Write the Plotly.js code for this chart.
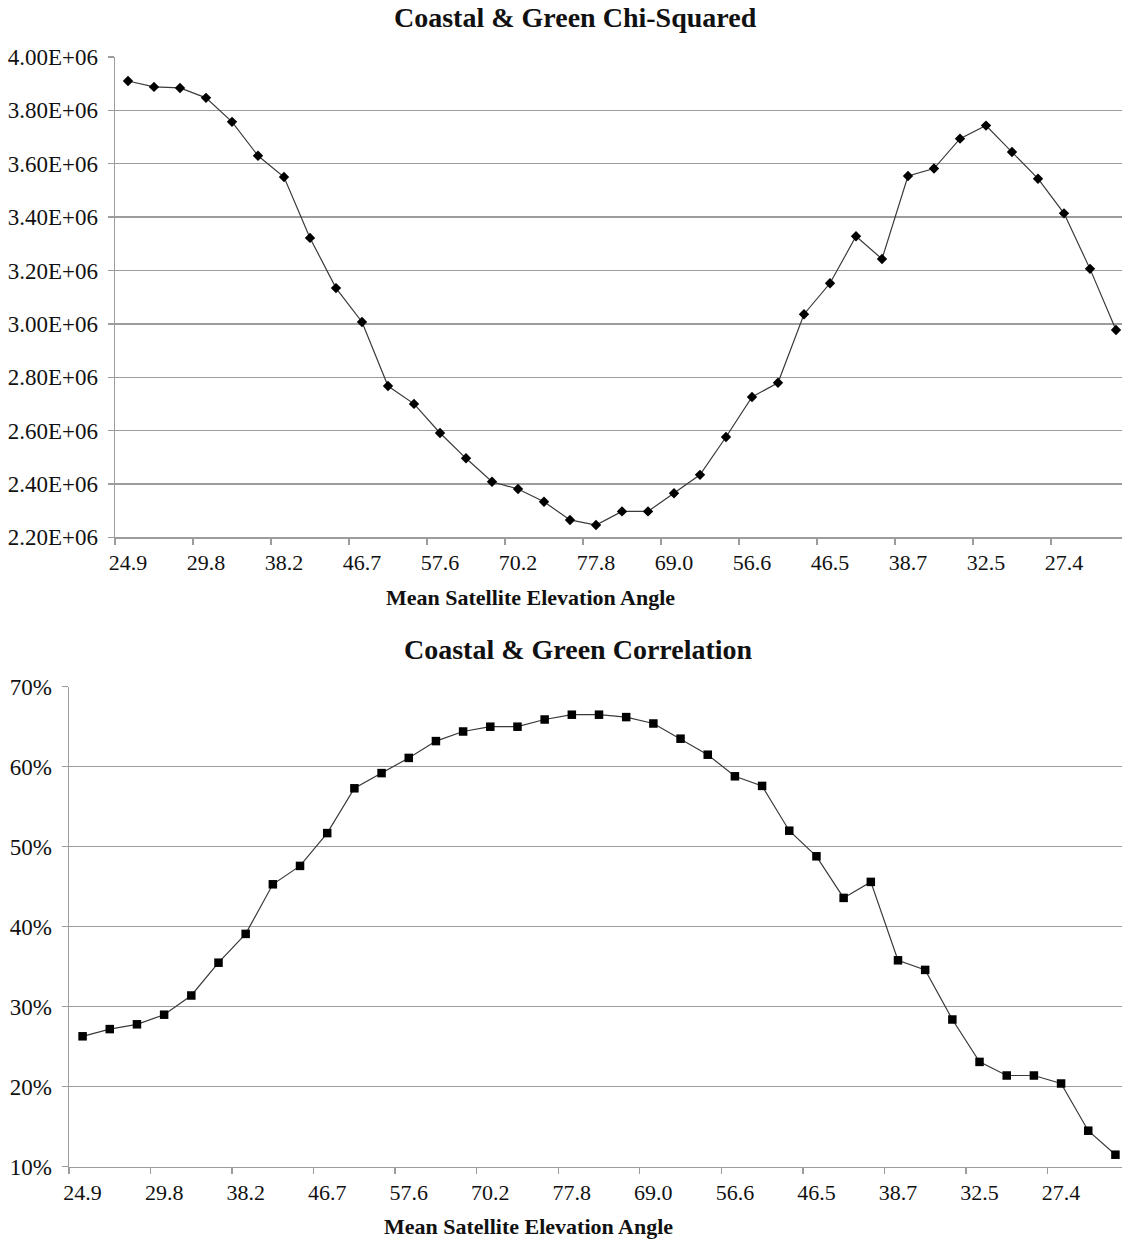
<!DOCTYPE html>
<html>
<head>
<meta charset="utf-8">
<script src="https://cdn.plot.ly/plotly-3.0.1.min.js"></script>
<style>html,body{margin:0;padding:0;background:#fff;overflow:hidden;}</style>
</head>
<body>
<div id="chart" style="width:1122px;height:1241px;"></div>
<script>
// ---- data ----
const angleTickLabels = ["24.9","29.8","38.2","46.7","57.6","70.2","77.8","69.0","56.6","46.5","38.7","32.5","27.4"];
const chiSquared = [3.910e6,3.888e6,3.884e6,3.847e6,3.757e6,3.630e6,3.550e6,3.322e6,3.134e6,3.007e6,
  2.767e6,2.700e6,2.591e6,2.496e6,2.408e6,2.381e6,2.333e6,2.265e6,2.246e6,2.297e6,
  2.297e6,2.365e6,2.434e6,2.576e6,2.726e6,2.779e6,3.036e6,3.152e6,3.328e6,3.243e6,
  3.554e6,3.582e6,3.694e6,3.743e6,3.644e6,3.544e6,3.414e6,3.206e6,2.977e6];
const correlation = [0.263,0.272,0.278,0.290,0.314,0.355,0.391,0.453,0.476,0.517,
  0.573,0.592,0.611,0.632,0.644,0.650,0.650,0.659,0.665,0.665,
  0.662,0.654,0.635,0.615,0.588,0.576,0.520,0.488,0.436,0.456,
  0.358,0.346,0.284,0.231,0.214,0.214,0.204,0.145,0.115];
const chiTicks = [2.2e6,2.4e6,2.6e6,2.8e6,3.0e6,3.2e6,3.4e6,3.6e6,3.8e6,4.0e6];
const corrTicks = [0.1,0.2,0.3,0.4,0.5,0.6,0.7];

// ---- layout helpers ----
const W = 1122, H = 1241;
const px = x => x / W;
const py = y => 1 - y / H;
const idx1 = chiSquared.map((_, i) => i);
const idx2 = correlation.map((_, i) => i);
const labelPos = angleTickLabels.map((_, i) => i * 3);
const fmtE = v => v.toExponential(2).toUpperCase().replace(/E\+(\d)$/, 'E+0$1');

const FAMILY = 'Liberation Serif';
const mkFont = size => ({family: FAMILY, size: size, color: '#111'});
const gray = '#9c9c9c';

const traces = [
  {x: idx1, y: chiSquared, xaxis: 'x', yaxis: 'y', type: 'scatter', mode: 'lines+markers',
   line: {color: '#3a3a3a', width: 1.2}, marker: {symbol: 'diamond', size: 8, color: '#000'},
   cliponaxis: false, hoverinfo: 'skip'},
  {x: idx2, y: correlation, xaxis: 'x2', yaxis: 'y2', type: 'scatter', mode: 'lines+markers',
   line: {color: '#3a3a3a', width: 1.2}, marker: {symbol: 'square', size: 8.5, color: '#000'},
   cliponaxis: false, hoverinfo: 'skip'}
];

function xAxis(left, w, anchor) {
  return {
    domain: [px(left), 1], anchor: anchor,
    range: [-0.5, -0.5 + (W - left) / w],
    tickmode: 'array', tickvals: labelPos, ticktext: angleTickLabels,
    ticks: '', showgrid: false, zeroline: false,
    showline: true, linecolor: gray, linewidth: 1.4,
    tickfont: mkFont(22),
    ticklabelstandoff: 5,
    minor: {tickmode: 'linear', tick0: -0.5, dtick: 3, ticks: 'outside', ticklen: 6,
            tickcolor: gray, tickwidth: 1.4, showgrid: false},
    fixedrange: true, automargin: false
  };
}
function yAxis(top, bottom, anchor, range, tickvals, ticktext) {
  return {
    domain: [py(bottom), py(top)], anchor: anchor, range: range,
    tickmode: 'array', tickvals: tickvals, ticktext: ticktext,
    ticks: 'outside', ticklen: 6, tickcolor: gray, tickwidth: 1.4,
    showgrid: true, gridcolor: gray, gridwidth: 1.4, zeroline: false,
    showline: true, linecolor: gray, linewidth: 1.4,
    tickfont: mkFont(23),
    ticklabelstandoff: 5,
    fixedrange: true, automargin: false
  };
}

const layout = {
  width: W, height: H,
  margin: {l: 0, r: 0, t: 0, b: 0},
  font: mkFont(22),
  paper_bgcolor: '#fff', plot_bgcolor: '#fff',
  showlegend: false,
  xaxis: xAxis(115, 26, 'y'),
  yaxis: yAxis(57, 537.3, 'x', [2.2e6, 4.0e6], chiTicks, chiTicks.map(fmtE)),
  xaxis2: xAxis(69, 27.18, 'y2'),
  yaxis2: yAxis(686.7, 1166.7, 'x2', [0.1, 0.7], corrTicks, corrTicks.map(v => Math.round(v * 100) + '%')),
  annotations: [
    {text: '<b>Coastal &amp; Green Chi-Squared</b>', x: px(575.5), y: py(18), xref: 'paper', yref: 'paper',
     xanchor: 'center', yanchor: 'middle', showarrow: false, font: mkFont(28)},
    {text: '<b>Mean Satellite Elevation Angle</b>', x: px(530.5), y: py(598), xref: 'paper', yref: 'paper',
     xanchor: 'center', yanchor: 'middle', showarrow: false, font: mkFont(22)},
    {text: '<b>Coastal &amp; Green Correlation</b>', x: px(578), y: py(649), xref: 'paper', yref: 'paper',
     xanchor: 'center', yanchor: 'middle', showarrow: false, font: mkFont(28)},
    {text: '<b>Mean Satellite Elevation Angle</b>', x: px(528), y: py(1226), xref: 'paper', yref: 'paper',
     xanchor: 'center', yanchor: 'middle', showarrow: false, font: mkFont(22)}
  ]
};

Plotly.newPlot('chart', traces, layout, {displayModeBar: false, staticPlot: true});
</script>
</body>
</html>
